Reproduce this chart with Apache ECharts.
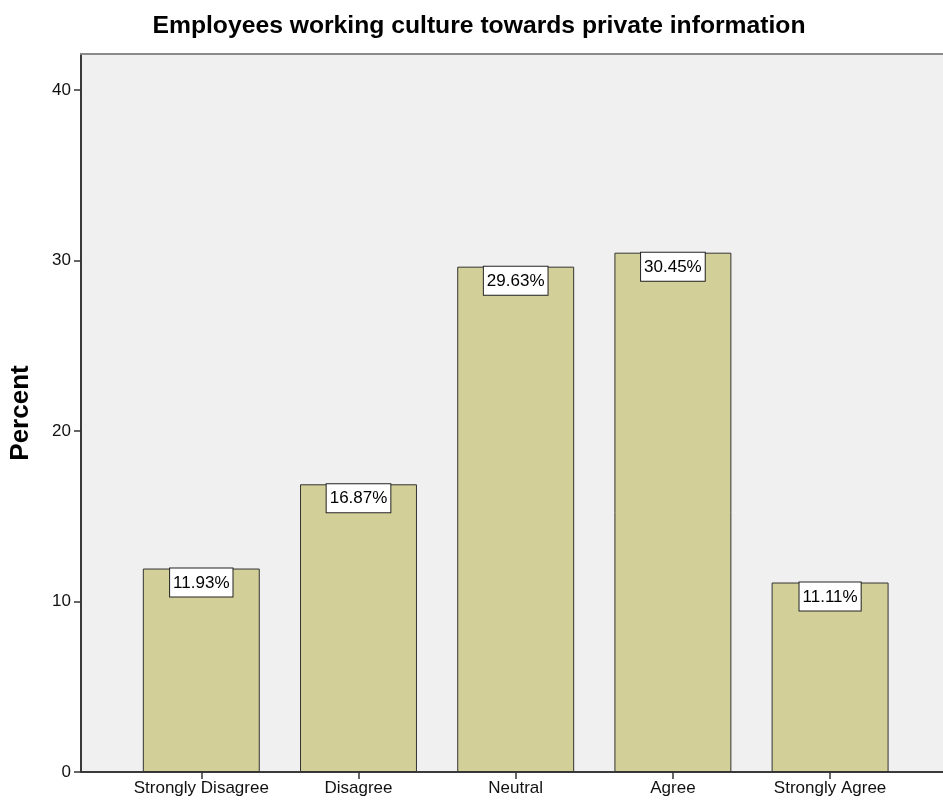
<!DOCTYPE html>
<html>
<head>
<meta charset="utf-8">
<title>Employees working culture towards private information</title>
<script src="https://cdn.jsdelivr.net/npm/echarts@6/dist/echarts.min.js"></script>
<style>
  html, body { margin: 0; padding: 0; background: #ffffff; }
  #chart { width: 943px; height: 805px; }
</style>
</head>
<body>
<div id="chart"></div>
<script>
// Response categories and their share of respondents (percent)
const categories = ['Strongly Disagree', 'Disagree', 'Neutral', 'Agree', 'Strongly Agree'];
const percents = [11.93, 16.87, 29.63, 30.45, 11.11];

// Value axis settings and tick positions
const yMin = 0;
const yMax = 42.1;
const yStep = 10;
const yTicks = [0, 10, 20, 30, 40];

const FONT = '"Liberation Sans", Arial, sans-serif';

const chart = echarts.init(document.getElementById('chart'), null, { renderer: 'canvas' });

chart.setOption({
  animation: false,
  backgroundColor: '#ffffff',
  title: {
    text: 'Employees working culture towards private information',
    left: 474,
    textAlign: 'center',
    top: 9,
    textStyle: { fontFamily: FONT, fontSize: 24.7, fontWeight: 'bold', color: '#000000' }
  },
  grid: [
    // frame: shaded plot area with the percent axis
    { left: 80, right: 0, top: 54, bottom: 33, show: true, backgroundColor: '#f0f0f0', borderWidth: 0 },
    // category band for the bars
    { left: 122.7, right: 34.3, top: 54, bottom: 33 }
  ],
  xAxis: [
    {
      gridIndex: 0, type: 'value', min: 0, max: 1, position: 'bottom',
      axisLine: { show: true, lineStyle: { color: '#3a3a3a', width: 2 } },
      axisTick: { show: false }, axisLabel: { show: false }, splitLine: { show: false }
    },
    {
      gridIndex: 0, type: 'value', min: 0, max: 1, position: 'top',
      axisLine: { show: true, lineStyle: { color: '#8a8a8a', width: 2 } },
      axisTick: { show: false }, axisLabel: { show: false }, splitLine: { show: false }
    },
    {
      gridIndex: 1, type: 'category', data: categories, position: 'bottom',
      axisLine: { show: false },
      axisTick: { show: true, alignWithLabel: true, interval: 0, length: 7, lineStyle: { color: '#333333', width: 1.5 } },
      axisLabel: { interval: 0, fontFamily: FONT, fontSize: 17, color: '#111111', margin: 8 },
      splitLine: { show: false }
    }
  ],
  yAxis: [
    {
      gridIndex: 0, type: 'value', min: yMin, max: yMax, interval: yStep,
      name: 'Percent', nameLocation: 'middle', nameGap: 47,
      nameTextStyle: { fontFamily: FONT, fontSize: 26, fontWeight: 'bold', color: '#000000' },
      axisLine: { show: true, lineStyle: { color: '#3a3a3a', width: 2 } },
      axisTick: { show: true, inside: false, length: 7, customValues: yTicks, lineStyle: { color: '#333333', width: 1.5 } },
      axisLabel: {
        fontFamily: FONT, fontSize: 17, color: '#111111', margin: 10,
        customValues: yTicks
      },
      splitLine: { show: false }
    },
    {
      gridIndex: 1, type: 'value', min: yMin, max: yMax, interval: yStep, show: false,
      splitLine: { show: false }
    }
  ],
  series: [
    {
      type: 'bar',
      xAxisIndex: 2,
      yAxisIndex: 1,
      data: percents,
      barWidth: '74.4%',
      itemStyle: { color: '#d3cf99', borderColor: '#333333', borderWidth: 1 },
      label: {
        show: true,
        position: 'insideTop',
        distance: 0,
        formatter: p => p.value.toFixed(2) + '%',
        fontFamily: FONT,
        fontSize: 17,
        color: '#000000',
        backgroundColor: '#ffffff',
        borderColor: '#222222',
        borderWidth: 1,
        padding: [6, 3, 5, 3]
      }
    }
  ]
});
</script>
</body>
</html>
